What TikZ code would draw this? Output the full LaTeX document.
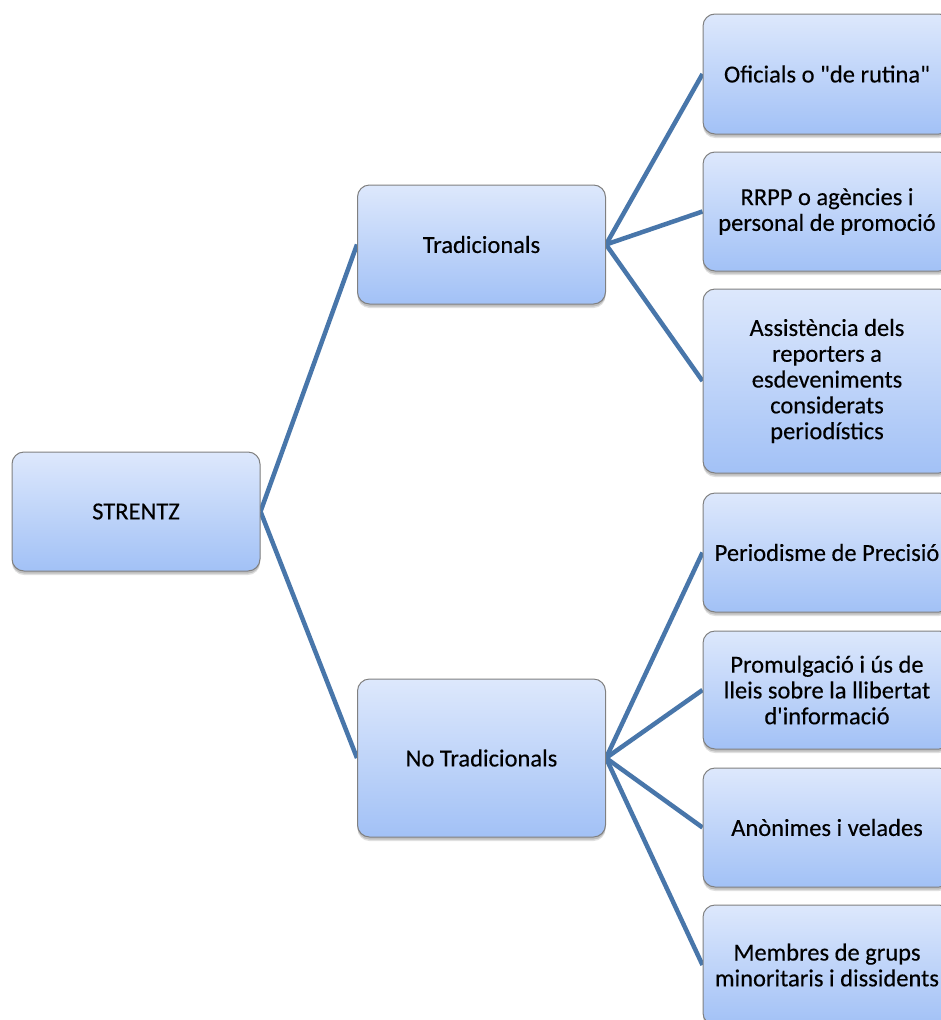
\documentclass[tikz,border=0pt]{standalone}
\usepackage{fontspec}
\setmainfont{Carlito}[Ligatures=TeXOff, FakeBold=0.3]
\usetikzlibrary{shadows}
\pgfdeclarelayer{base}
\pgfdeclarelayer{lines}
\pgfsetlayers{base,lines,main}
\definecolor{boxtop}{RGB}{221,232,252}
\definecolor{boxbot}{RGB}{162,193,246}
\definecolor{boxline}{RGB}{128,128,128}
\definecolor{linkblue}{RGB}{72,118,170}
\tikzset{
  entry/.style={draw=boxline, line width=1pt, rounded corners=12pt,
    top color=boxtop, bottom color=boxbot, minimum width=248pt,
    align=center, inner sep=4pt,
    font=\fontsize{24.5}{25.8}\selectfont,
    drop shadow={shadow xshift=0pt, shadow yshift=-4pt, opacity=0.12, fill=black},
    drop shadow={shadow xshift=0pt, shadow yshift=-2.5pt, opacity=0.15, fill=black}},
  link/.style={draw=linkblue, line width=4.5pt}
}
\begin{document}
\begin{tikzpicture}[x=1pt, y=-1pt]
  \useasboundingbox (0,0) rectangle (941,1020);
  \clip (0,0) rectangle (941,1020);
  \begin{pgfonlayer}{base}
    \fill[white] (0,0) rectangle (941,1020);
  \end{pgfonlayer}

  % root, second level and leaves
  \node[entry, minimum height=119pt] (root) at (136,511.5) {STRENTZ};
  \node[entry, minimum height=119pt] (trad) at (481.5,244.5) {Tradicionals};
  \node[entry, minimum height=158pt] (notrad) at (481.5,758) {No Tradicionals};

  \node[entry, minimum height=120pt] (t1) at (827,74) {Oficials o "de rutina"};
  \node[entry, minimum height=119pt] (t2) at (827,211.5) {RRPP o agències i\\personal de promoció};
  \node[entry, minimum height=184pt] (t3) at (827,381) {Assistència dels\\reporters a\\esdeveniments\\considerats\\periodístics};

  \node[entry, minimum height=119pt] (n1) at (827,552.5) {Periodisme de Precisió};
  \node[entry, minimum height=118pt] (n2) at (827,690) {Promulgació i ús de\\lleis sobre la llibertat\\d'informació};
  \node[entry, minimum height=119pt] (n3) at (827,827.5) {Anònimes i velades};
  \node[entry, minimum height=120pt] (n4) at (827,965) {Membres de grups\\minoritaris i dissidents};

  % connectors, beneath the boxes
  \begin{pgfonlayer}{lines}
    \draw[link] (root.east) -- (trad.west);
    \draw[link] (root.east) -- (notrad.west);
    \foreach \c in {t1,t2,t3} \draw[link] (trad.east) -- (\c.west);
    \foreach \c in {n1,n2,n3,n4} \draw[link] (notrad.east) -- (\c.west);
  \end{pgfonlayer}
\end{tikzpicture}
\end{document}
